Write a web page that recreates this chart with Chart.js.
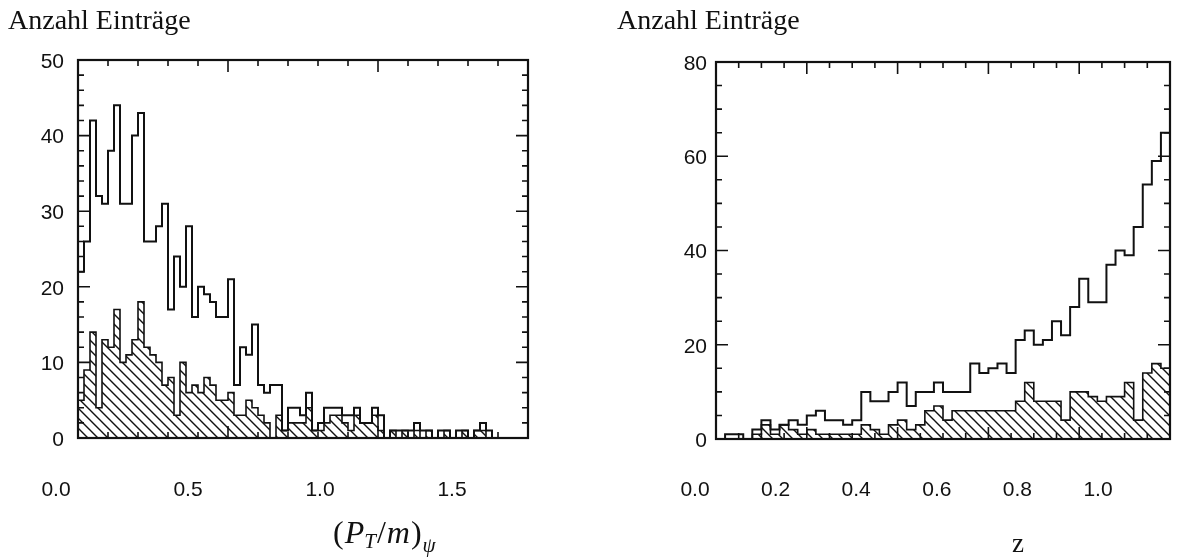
<!DOCTYPE html>
<html>
<head>
<meta charset="utf-8">
<script src="https://cdn.jsdelivr.net/npm/chart.js@4.4.1/dist/chart.umd.min.js"></script>
<style>
  html, body { margin: 0; padding: 0; background: #fff; }
  #wrap { position: relative; width: 1189px; height: 558px; overflow: hidden; }
  canvas { position: absolute; top: 0; }
  #cL { left: 0; }
  #cR { left: 594px; }
</style>
</head>
<body>
<div id="wrap">
  <canvas id="cL" width="594" height="558"></canvas>
  <canvas id="cR" width="595" height="558"></canvas>
</div>
<script>
// ---- (P_T/m)_psi distribution: 75 bins of width 0.02 from 0 to 1.5 ----
const ptBinWidth = 0.02;
const ptAll = [
  22, 26, 42, 32, 31, 38, 44, 31, 31, 40,
  43, 26, 26, 28, 31, 17, 24, 20, 28, 16,
  20, 19, 18, 16, 16, 21,  7, 12, 11, 15,
   7,  6,  7,  7,  1,  4,  4,  3,  6,  1,
   2,  4,  4,  4,  3,  3,  4,  2,  2,  4,
   3,  0,  1,  1,  1,  1,  2,  1,  1,  0,
   1,  1,  0,  1,  1,  0,  1,  2,  1,  0,
   0,  0,  0,  0,  0
];
const ptTagged = [
   5,  9, 14,  4, 13, 12, 17, 10, 11, 13,
  18, 12, 11, 10,  7,  8,  3, 10,  6,  7,
   6,  8,  7,  5,  5,  6,  3,  3,  5,  4,
   3,  2,  0,  3,  1,  2,  2,  2,  4,  1,
   1,  2,  3,  3,  2,  1,  3,  2,  2,  3,
   1,  0,  1,  0,  1,  0,  1,  0,  1,  0,
   0,  1,  0,  0,  1,  0,  1,  1,  0,  0,
   0,  0,  0,  0,  0
];
const ptTickLabels = ['0.0', '0.5', '1.0', '1.5'];
const ptCountLabels = [0, 10, 20, 30, 40, 50];

// ---- z distribution: 50 bins of width 0.02 from 0 to 1 ----
const zBinWidth = 0.02;
const zAll = [
   0,  1,  1,  0,  2,  4,  2,  3,  4,  3,
   5,  6,  4,  4,  3,  4, 10,  8,  8, 10,
  12,  7, 10, 10, 12, 10, 10, 10, 16, 14,
  15, 16, 14, 21, 23, 20, 21, 25, 22, 28,
  34, 29, 29, 37, 40, 39, 45, 54, 59, 65
];
const zTagged = [
   0,  0,  0,  0,  1,  3,  1,  3,  2,  1,
   2,  1,  1,  1,  1,  1,  3,  2,  1,  3,
   4,  2,  3,  6,  7,  4,  6,  6,  6,  6,
   6,  6,  6,  8, 12,  8,  8,  8,  4, 10,
  10,  9,  8,  9,  9, 12,  4, 14, 16, 15
];
const zTickLabels = ['0.0', '0.2', '0.4', '0.6', '0.8', '1.0'];
const zCountLabels = [0, 20, 40, 60, 80];

const yTitle = 'Anzahl Einträge';
const ink = '#111';

// outline of a histogram as left-edge step points, closed down to zero at both ends
function stepPoints(values, width) {
  const pts = [{ x: 0, y: 0 }];
  values.forEach((v, i) => pts.push({ x: i * width, y: v }));
  pts.push({ x: values.length * width, y: 0 });
  return pts;
}

// diagonal "\" hatching used for the tagged subsample
function hatchPattern(step) {
  const c = document.createElement('canvas');
  c.width = step; c.height = step;
  const g = c.getContext('2d');
  g.strokeStyle = ink;
  g.lineWidth = 1.4;
  g.beginPath();
  for (const k of [-step, 0, step]) {
    g.moveTo(k - 1, -1);
    g.lineTo(k + step + 1, step + 1);
  }
  g.stroke();
  return g.createPattern(c, 'repeat');
}

// frame with inward ticks on all four sides, tick labels and titles
function decor(cfg) {
  return {
    id: 'decor',
    afterDraw(chart) {
      const { ctx, chartArea: a, scales } = chart;
      const y = scales.y, x = scales.x, xl = scales.xl;
      ctx.save();
      ctx.strokeStyle = ink;
      ctx.fillStyle = ink;

      ctx.lineWidth = 1.6;
      const ny = Math.round((y.max - y.min) / cfg.yMinor);
      for (let k = 0; k <= ny; k++) {
        const p = y.getPixelForValue(y.min + k * cfg.yMinor);
        const len = k % cfg.yRatio === 0 ? cfg.majLen : cfg.minLen;
        ctx.beginPath();
        ctx.moveTo(a.left, p); ctx.lineTo(a.left + len, p);
        ctx.moveTo(a.right, p); ctx.lineTo(a.right - len, p);
        ctx.stroke();
      }
      const nx = Math.round((x.max - x.min) / cfg.xMinor);
      for (let k = 0; k <= nx; k++) {
        const p = x.getPixelForValue(x.min + k * cfg.xMinor);
        const len = k % cfg.xRatio === 0 ? cfg.majLen : cfg.minLen;
        ctx.beginPath();
        ctx.moveTo(p, a.top); ctx.lineTo(p, a.top + len);
        ctx.moveTo(p, a.bottom); ctx.lineTo(p, a.bottom - len);
        ctx.stroke();
      }

      ctx.lineWidth = 2.2;
      ctx.strokeRect(a.left, a.top, a.right - a.left, a.bottom - a.top);

      ctx.font = cfg.tickFont;
      ctx.textAlign = 'right';
      ctx.textBaseline = 'middle';
      cfg.yLabels.forEach(v => ctx.fillText(String(v), a.left - cfg.yGap, y.getPixelForValue(v) + 2));

      ctx.textAlign = 'center';
      cfg.xLabels.forEach(t => ctx.fillText(t, xl.getPixelForValue(parseFloat(t)), cfg.xLabelY));

      ctx.textAlign = 'left';
      ctx.textBaseline = 'alphabetic';
      ctx.font = '28px "Liberation Serif"';
      ctx.fillText(yTitle, cfg.titleX, 29);

      cfg.axisTitle(ctx);
      ctx.restore();
    }
  };
}

function histChart(canvas, all, tagged, width, xMax, yMax, padding, labelRange, cfg) {
  return new Chart(canvas, {
    type: 'line',
    data: {
      datasets: [
        {
          data: stepPoints(all, width),
          stepped: 'before',
          borderColor: ink,
          borderWidth: 2,
          pointRadius: 0,
          fill: false
        },
        {
          data: stepPoints(tagged, width),
          stepped: 'before',
          borderColor: ink,
          borderWidth: 1.6,
          pointRadius: 0,
          backgroundColor: hatchPattern(10),
          fill: 'origin'
        }
      ]
    },
    options: {
      responsive: false,
      animation: false,
      events: [],
      layout: { padding },
      plugins: { legend: { display: false }, tooltip: { enabled: false } },
      scales: {
        x: { type: 'linear', min: 0, max: xMax, display: false },
        y: { type: 'linear', min: 0, max: yMax, display: false },
        // placement scale for the printed tick numbers under the frame
        xl: { type: 'linear', axis: 'x', position: 'bottom', min: labelRange[0], max: labelRange[1], display: false }
      }
    },
    plugins: [decor(cfg)]
  });
}

histChart(document.getElementById('cL'), ptAll, ptTagged, ptBinWidth, 1.5, 50,
  { left: 78, right: 66, top: 60, bottom: 120 }, [0.0833, 1.7879],
  {
    yMinor: 2, yRatio: 5, xMinor: 0.1, xRatio: 5, majLen: 12, minLen: 6,
    yLabels: ptCountLabels, xLabels: ptTickLabels, yGap: 14, xLabelY: 490,
    tickFont: '21px "Liberation Sans"', titleX: 8,
    axisTitle(ctx) {
      let x = 333;
      const base = 543;
      const put = (t, f, dy, gap) => { ctx.font = f; ctx.fillText(t, x, base + dy); x += ctx.measureText(t).width + (gap || 0); };
      put('(', '32px "Liberation Serif"', 0, 1);
      put('P', 'italic 32px "Liberation Serif"', 0, 0);
      put('T', 'italic 21px "Liberation Serif"', 5, 1);
      put('/', '32px "Liberation Serif"', 0, 1);
      put('m', 'italic 32px "Liberation Serif"', 0, 1);
      put(')', '32px "Liberation Serif"', 0, 1);
      put('ψ', 'italic 21px "Liberation Serif"', 9, 0);
    }
  });

histChart(document.getElementById('cR'), zAll, zTagged, zBinWidth, 1.0, 80,
  { left: 122, right: 19, top: 62, bottom: 119 }, [0.0521, 1.1787],
  {
    yMinor: 5, yRatio: 4, xMinor: 0.05, xRatio: 4, majLen: 12, minLen: 6,
    yLabels: zCountLabels, xLabels: zTickLabels, yGap: 9, xLabelY: 490,
    tickFont: '21px "Liberation Sans"', titleX: 23,
    axisTitle(ctx) {
      ctx.font = '27px "Liberation Serif"';
      ctx.fillText('z', 418, 552);
    }
  });
</script>
</body>
</html>
